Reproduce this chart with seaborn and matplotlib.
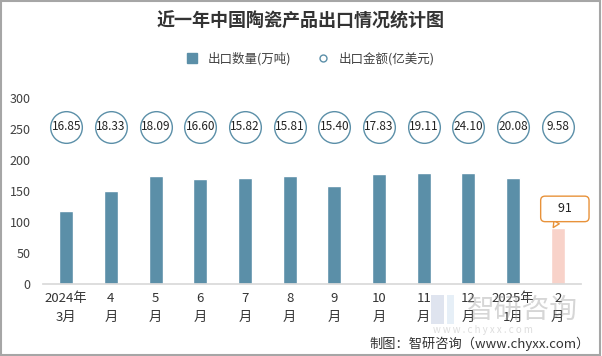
import numpy as np
import pandas as pd
import matplotlib.pyplot as plt
import seaborn as sns
from matplotlib.lines import Line2D
from matplotlib.patches import Rectangle

# data
months = ["2024年\n3月", "4\n月", "5\n月", "6\n月", "7\n月", "8\n月",
          "9\n月", "10\n月", "11\n月", "12\n月", "2025年\n1月", "2\n月"]
volume = [118, 150, 174, 169, 171, 174, 158, 177, 179, 179, 171, 91]   # 万吨
amount = [16.85, 18.33, 18.09, 16.60, 15.82, 15.81, 15.40, 17.83, 19.11, 24.10, 20.08, 9.58]  # 亿美元

bar_color = "#5B8FA8"
last_color = "#F8D2C9"
orange = "#E8923A"

sns.set_theme(style="white")
plt.rcParams["font.family"] = ["Noto Sans CJK SC", "DejaVu Sans"]

fig = plt.figure(figsize=(6.02, 3.56), dpi=100)
ax = fig.add_axes([0.0714, 0.202, 0.8936, 0.5236])

df = pd.DataFrame({"month": months, "volume": volume})
palette = [bar_color] * (len(months) - 1) + [last_color]
sns.barplot(data=df, x="month", y="volume", hue="month", palette=palette,
            legend=False, width=0.31, ax=ax, saturation=1)

# amount bubbles in a row near the top
pos = np.arange(len(amount))
circle_y = np.full(len(amount), 253)
sns.scatterplot(x=pos, y=circle_y, s=520, facecolor="white", edgecolor=bar_color,
                linewidth=1.0, ax=ax, zorder=3)
for x, v in zip(pos, amount):
    ax.text(x, 253, f"{v:.2f}", ha="center", va="center", fontsize=8.5,
            color="#222222", zorder=4)

# callout for the last bar
ax.annotate("    " + str(volume[-1]) + "    ", xy=(len(volume) - 1 - 0.1, volume[-1]),
            xytext=(len(volume) - 1 + 0.16, 121), ha="center", va="center",
            fontsize=9, color="#222222",
            bbox=dict(boxstyle="round,pad=0.5,rounding_size=0.35", fc="white",
                      ec=orange, lw=1.0),
            arrowprops=dict(arrowstyle="wedge,tail_width=0.5", fc="white",
                            ec=orange, lw=1.0, shrinkA=0, shrinkB=0))

ax.set_ylim(0, 300)
ax.set_xlim(-0.52, len(months) - 0.48)
ax.set_yticks([0, 50, 100, 150, 200, 250, 300])
ax.set_xlabel("")
ax.set_ylabel("")
ax.tick_params(axis="y", labelsize=9, colors="#404040", length=0, pad=9)
ax.tick_params(axis="x", labelsize=9.5, colors="#333333", length=0, pad=6)
for lab in ax.get_xticklabels():
    lab.set_linespacing(1.55)
for s in ["top", "right", "left"]:
    ax.spines[s].set_visible(False)
ax.spines["bottom"].set_color("#d9d9d9")

fig.text(0.5, 0.94, "近一年中国陶瓷产品出口情况统计图", ha="center", va="center",
         fontsize=13, fontweight="bold", color="#333333")

handles = [
    Line2D([], [], marker="s", color="none", markerfacecolor=bar_color,
           markeredgecolor=bar_color, markersize=6.5, label="出口数量(万吨)"),
    Line2D([], [], marker="o", color="none", markerfacecolor="white",
           markeredgecolor=bar_color, markersize=5, label="出口金额(亿美元)"),
]
fig.legend(handles=handles, loc="center", bbox_to_anchor=(0.51, 0.835), ncol=2,
           frameon=False, fontsize=9, handletextpad=0.2, columnspacing=1.6,
           labelcolor="#404040")

# faint watermark (logo blocks + name)
fig.patches.append(Rectangle((0.716, 0.09), 0.022, 0.08, transform=fig.transFigure,
                             fc="#b8c4dc", ec="none", alpha=0.45))
fig.patches.append(Rectangle((0.742, 0.09), 0.012, 0.08, transform=fig.transFigure,
                             fc="#c8dcef", ec="none", alpha=0.45))
fig.text(0.775, 0.13, "智研咨询", fontsize=20, color="#999999", alpha=0.4,
         ha="left", va="center")
fig.text(0.72, 0.074, "w w w . c h y x x . c o m", fontsize=7, color="#aaaaaa",
         alpha=0.4, ha="left", va="center")

fig.text(0.98, 0.035, "制图：智研咨询（www.chyxx.com）", ha="right", va="center",
         fontsize=9.5, color="#333333")

# figure border
fig.patches.append(Rectangle((0.002, 0.003), 0.995, 0.994, transform=fig.transFigure,
                             fill=False, ec="#a6a6a6", lw=1.5))

fig.savefig("out.png", dpi=100)
